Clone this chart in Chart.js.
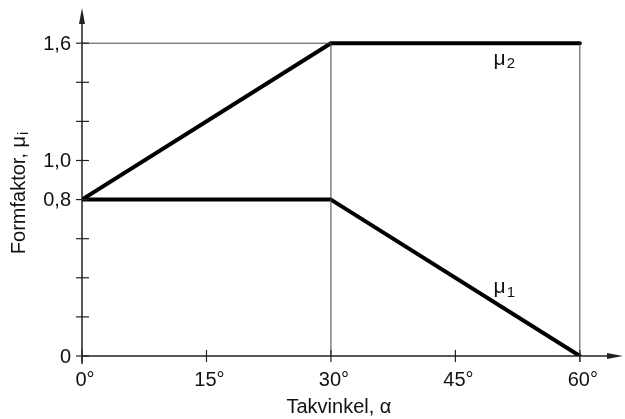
<!DOCTYPE html>
<html>
<head>
<meta charset="utf-8">
<script src="https://cdn.jsdelivr.net/npm/chart.js@4"></script>
<style>
  body { margin: 0; background: #fff; }
  canvas { display: block; }
</style>
</head>
<body>
<canvas id="chart" width="625" height="419"></canvas>
<script>
// data
const angles = [0, 30, 60];
const mu1 = [0.8, 0.8, 0];
const mu2 = [0.8, 1.6, 1.6];
const xTicks = [0, 15, 30, 45, 60];
const xTickLabels = ["0°", "15°", "30°", "45°", "60°"];
const yTicks = [0, 0.2, 0.4, 0.6, 0.8, 1.0, 1.2, 1.4, 1.6];
const yTickLabels = ["0", "", "", "", "0,8", "1,0", "", "", "1,6"];

const FONT = '"Liberation Sans", Arial, sans-serif';

// axes, ticks, guide lines and labels drawn through the chart's scales
const axesPlugin = {
  id: "axes",
  afterDatasetsDraw(chart) {
    const { ctx, scales: { x, y } } = chart;
    const x0 = x.getPixelForValue(0);
    const y0 = y.getPixelForValue(0);
    const xEnd = x.getPixelForValue(x.max);
    const yEnd = y.getPixelForValue(y.max);
    ctx.save();

    // thin guide lines
    ctx.strokeStyle = "#444";
    ctx.lineWidth = 1;
    ctx.beginPath();
    ctx.moveTo(x0, y.getPixelForValue(1.6));
    ctx.lineTo(x.getPixelForValue(30), y.getPixelForValue(1.6));
    ctx.moveTo(x.getPixelForValue(30), y0);
    ctx.lineTo(x.getPixelForValue(30), y.getPixelForValue(1.6));
    ctx.moveTo(x.getPixelForValue(60), y0 + 6);
    ctx.lineTo(x.getPixelForValue(60), y.getPixelForValue(1.6));
    ctx.stroke();

    // axis lines
    ctx.strokeStyle = "#222";
    ctx.lineWidth = 1.5;
    ctx.beginPath();
    ctx.moveTo(x0, y0 + 8);
    ctx.lineTo(x0, yEnd + 10);
    ctx.moveTo(x0, y0);
    ctx.lineTo(xEnd - 10, y0);
    ctx.stroke();

    // arrows
    ctx.fillStyle = "#222";
    ctx.beginPath();
    ctx.moveTo(x0, yEnd);
    ctx.lineTo(x0 - 3, yEnd + 16);
    ctx.lineTo(x0 + 3, yEnd + 16);
    ctx.closePath();
    ctx.fill();
    ctx.beginPath();
    ctx.moveTo(xEnd, y0);
    ctx.lineTo(xEnd - 16, y0 - 3);
    ctx.lineTo(xEnd - 16, y0 + 3);
    ctx.closePath();
    ctx.fill();

    // y ticks and labels
    ctx.lineWidth = 1.2;
    ctx.font = "20px " + FONT;
    ctx.fillStyle = "#111";
    ctx.textAlign = "right";
    ctx.textBaseline = "middle";
    yTicks.forEach((v, i) => {
      const py = y.getPixelForValue(v);
      ctx.beginPath();
      ctx.moveTo(x0 - 6, py);
      ctx.lineTo(x0 + 7, py);
      ctx.stroke();
      if (yTickLabels[i]) ctx.fillText(yTickLabels[i], x0 - 11, py + 1);
    });

    // x ticks and labels
    ctx.textAlign = "center";
    ctx.textBaseline = "middle";
    xTicks.forEach((v, i) => {
      const px = x.getPixelForValue(v);
      ctx.beginPath();
      ctx.moveTo(px, y0 - 6);
      ctx.lineTo(px, y0 + 6);
      ctx.stroke();
      ctx.fillText(xTickLabels[i], px + 3, y0 + 24);
    });

    // axis titles
    ctx.fillText("Takvinkel, α", x.getPixelForValue(30) + 8, y0 + 51);
    ctx.save();
    ctx.translate(19, 193);
    ctx.rotate(-Math.PI / 2);
    const main = "Formfaktor, μ";
    const mw = ctx.measureText(main).width;
    ctx.font = "14px " + FONT;
    const sw = ctx.measureText("i").width;
    const start = -(mw + sw + 1) / 2;
    ctx.textAlign = "left";
    ctx.font = "20px " + FONT;
    ctx.fillText(main, start, 0);
    ctx.font = "14px " + FONT;
    ctx.fillText("i", start + mw + 1, 5);
    ctx.restore();

    // series labels
    const seriesLabel = (text, sub, v, w) => {
      const px = x.getPixelForValue(v);
      const py = y.getPixelForValue(w);
      ctx.font = "21px " + FONT;
      ctx.textAlign = "left";
      ctx.fillText(text, px, py);
      const tw = ctx.measureText(text).width;
      ctx.font = "15px " + FONT;
      ctx.fillText(sub, px + tw + 1, py + 5);
    };
    seriesLabel("μ", "2", 49.6, 1.52);
    seriesLabel("μ", "1", 49.6, 0.35);

    ctx.restore();
  }
};

new Chart(document.getElementById("chart"), {
  type: "scatter",
  data: {
    datasets: [
      {
        label: "μ1",
        data: angles.map((a, i) => ({ x: a, y: mu1[i] })),
        showLine: true,
        borderColor: "#000",
        borderWidth: 4,
        pointRadius: 0,
        borderCapStyle: "round",
        borderJoinStyle: "round"
      },
      {
        label: "μ2",
        data: angles.map((a, i) => ({ x: a, y: mu2[i] })),
        showLine: true,
        borderColor: "#000",
        borderWidth: 4,
        pointRadius: 0,
        borderCapStyle: "round",
        borderJoinStyle: "round"
      }
    ]
  },
  options: {
    responsive: false,
    animation: false,
    layout: { padding: { left: 82, right: 2, top: 8, bottom: 63 } },
    plugins: { legend: { display: false }, tooltip: { enabled: false } },
    scales: {
      x: { type: "linear", min: 0, max: 65.2, display: false },
      y: { type: "linear", min: 0, max: 1.78, display: false }
    }
  },
  plugins: [axesPlugin]
});
</script>
</body>
</html>
